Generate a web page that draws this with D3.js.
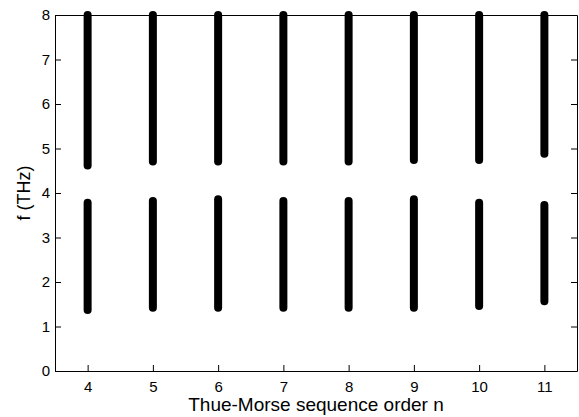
<!DOCTYPE html>
<html>
<head>
<meta charset="utf-8">
<script src="https://cdn.jsdelivr.net/npm/d3@7/dist/d3.min.js"></script>
<style>
  body { margin: 0; background: #fff; }
  text { font-family: "Liberation Sans", Arial, sans-serif; fill: #000; }
</style>
</head>
<body>
<svg id="chart"></svg>
<script>
'use strict'

// sequence order n
var orders = [4, 5, 6, 7, 8, 9, 10, 11];

// lower band of frequencies (THz)
var lowBandMin = [1.37, 1.42, 1.42, 1.42, 1.42, 1.42, 1.46, 1.57];
var lowBandMax = [3.78, 3.82, 3.86, 3.82, 3.82, 3.86, 3.78, 3.73];

// upper band of frequencies (THz), runs to top of plot
var highBandMin = [4.62, 4.71, 4.71, 4.71, 4.71, 4.74, 4.74, 4.88];
var highBandMax = [8, 8, 8, 8, 8, 8, 8, 8];

var xTicks = [4, 5, 6, 7, 8, 9, 10, 11];
var yTicks = [0, 1, 2, 3, 4, 5, 6, 7, 8];

var WIDTH = 579,
	HEIGHT = 417;

var margin = { top: 15, right: 2, bottom: 46, left: 55 };

var svg = d3.select("#chart")
	.attr("width", WIDTH)
	.attr("height", HEIGHT);

var plotW = WIDTH - margin.left - margin.right,
	plotH = HEIGHT - margin.top - margin.bottom;

var x = d3.scaleLinear().domain([3.5, 11.5]).range([0, plotW]);
var y = d3.scaleLinear().domain([0, 8]).range([plotH, 0]);

var g = svg.append("g")
	.attr("transform", "translate(" + margin.left + "," + margin.top + ")");

var tickLen = 6;

// axes, ticks pointing inward like matlab
var xAxisBottom = g.append("g")
	.attr("transform", "translate(0," + plotH + ")")
	.call(d3.axisBottom(x).tickValues(xTicks).tickSize(-tickLen).tickPadding(10).tickSizeOuter(0));
var xAxisTop = g.append("g")
	.call(d3.axisTop(x).tickValues(xTicks).tickSize(-tickLen).tickFormat("").tickSizeOuter(0));
var yAxisLeft = g.append("g")
	.call(d3.axisLeft(y).tickValues(yTicks).tickSize(-tickLen).tickPadding(5).tickSizeOuter(0));
var yAxisRight = g.append("g")
	.attr("transform", "translate(" + plotW + ",0)")
	.call(d3.axisRight(y).tickValues(yTicks).tickSize(-tickLen).tickFormat("").tickSizeOuter(0));

[xAxisBottom, xAxisTop, yAxisLeft, yAxisRight].forEach(function(a) {
	a.selectAll("path").attr("stroke", "#000").attr("stroke-width", 1);
	a.selectAll("line").attr("stroke", "#000").attr("stroke-width", 1);
	a.selectAll("text").style("font-size", "15px").attr("fill", "#000");
});

// bands drawn as thick round-capped strokes (dense markers in the original)
function drawBands(mins, maxs) {
	g.append("g").selectAll("line")
		.data(orders)
		.enter().append("line")
		.attr("x1", function(d) { return x(d); })
		.attr("x2", function(d) { return x(d); })
		.attr("y1", function(d, i) { return y(mins[i]); })
		.attr("y2", function(d, i) { return y(maxs[i]); })
		.attr("stroke", "#000")
		.attr("stroke-width", 8)
		.attr("stroke-linecap", "round");
}

drawBands(lowBandMin, lowBandMax);
drawBands(highBandMin, highBandMax);

// axis labels
svg.append("text")
	.attr("x", margin.left + plotW / 2)
	.attr("y", 411)
	.attr("text-anchor", "middle")
	.style("font-size", "19px")
	.text("Thue-Morse sequence order n");

svg.append("text")
	.attr("transform", "translate(30," + (margin.top + plotH / 2) + ") rotate(-90)")
	.attr("text-anchor", "middle")
	.style("font-size", "18px")
	.text("f (THz)");
</script>
</body>
</html>
